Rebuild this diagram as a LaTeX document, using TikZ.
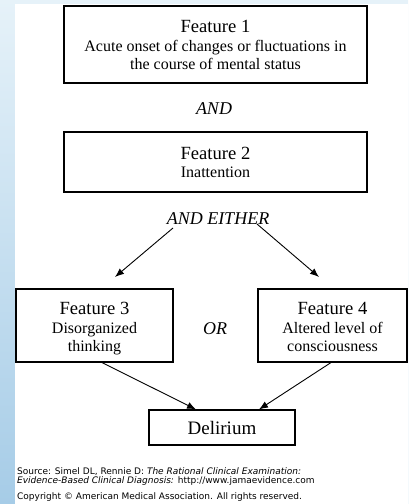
\documentclass[tikz,border=0pt]{standalone}
\usepackage{fontspec}
\setmainfont{Liberation Serif}
\newfontfamily\notefont{DejaVu Sans}
\usetikzlibrary{arrows.meta}

\definecolor{stripTop}{HTML}{E6F2F9}
\definecolor{stripBot}{HTML}{A6CCE7}

\newcommand\titlesize{\fontsize{18.6}{20}\selectfont}
\newcommand\bodysize{\fontsize{16}{18}\selectfont}
\newcommand\joinsize{\fontsize{18}{20}\selectfont}
\newcommand\notesize{\fontsize{9}{9.4}\selectfont}
% equal first-line height and last-line depth for the lower boxes
\newcommand\toprow{\rule{0pt}{18pt}}
\newcommand\lowrow{\vphantom{g}}

\tikzset{
  featbox/.style={draw, line width=1.1pt, rectangle, align=center,
    inner sep=0pt, font=\bodysize},
  joinword/.style={font=\joinsize\itshape, inner sep=0pt},
  flow/.style={line width=0.9pt, -{Latex[length=9pt,width=7pt]}},
  note/.style={anchor=west, inner sep=0pt, font=\notefont\notesize, align=left}
}

\begin{document}
\begin{tikzpicture}[x=1pt,y=-1pt]
  \useasboundingbox (0,0) rectangle (408,504);
  % page backdrop: tinted frame on the left and top, white sheet
  \fill[top color=stripTop, bottom color=stripBot] (0,0) rectangle (408,504);
  \fill[white] (15,4) rectangle (408,504);

  % feature boxes
  \node[featbox, minimum width=303pt, minimum height=77pt] (f1) at (215.5,44.5)
    {{\titlesize Feature 1}\\[1pt]
     Acute onset of changes or fluctuations in\\
     the course of mental status};
  \node[joinword] (and) at (214,108.5) {AND};
  \node[featbox, minimum width=303pt, minimum height=60pt] (f2) at (215.5,162)
    {{\titlesize Feature 2}\\ Inattention};
  \node[joinword] (either) at (218,218.5) {AND EITHER};

  \node[featbox, minimum width=157pt, minimum height=73pt] (f3) at (94.5,325.5)
    {{\titlesize\toprow Feature 3}\\[1pt] Disorganized\\ thinking\lowrow};
  \node[joinword] (or) at (215,328.5) {OR};
  \node[featbox, minimum width=149pt, minimum height=73pt] (f4) at (332.5,325.5)
    {{\titlesize\toprow Feature 4}\\[1pt] Altered level of\\ consciousness\lowrow};

  \node[featbox, minimum width=146pt, minimum height=35pt, font=\fontsize{19}{21}\selectfont]
    (del) at (222,427.5) {Delirium};

  % branching arrows below "AND EITHER"
  \coordinate (eL) at (173,228);
  \coordinate (eR) at (257,224);
  \coordinate (tL) at (115,277);
  \coordinate (tR) at (319,277);
  \draw[flow] (eL) -- (tL);
  \draw[flow] (eR) -- (tR);

  % both branches lead to the diagnosis
  \draw[flow] ([xshift=7.5pt]f3.south) -- ([xshift=-26pt]del.north);
  \draw[flow] ([xshift=-1.5pt]f4.south) -- ([xshift=37pt]del.north);

  % source and copyright lines
  \node[note] (src) at (17,476.5)
    {Source: Simel DL, Rennie D: \textit{The Rational Clinical Examination:}\\
     \textit{Evidence-Based Clinical Diagnosis:} http://www.jamaevidence.com};
  \node[note] (copy) at (17,497) {Copyright \textcopyright\ American Medical Association. All rights reserved.};
\end{tikzpicture}
\end{document}
